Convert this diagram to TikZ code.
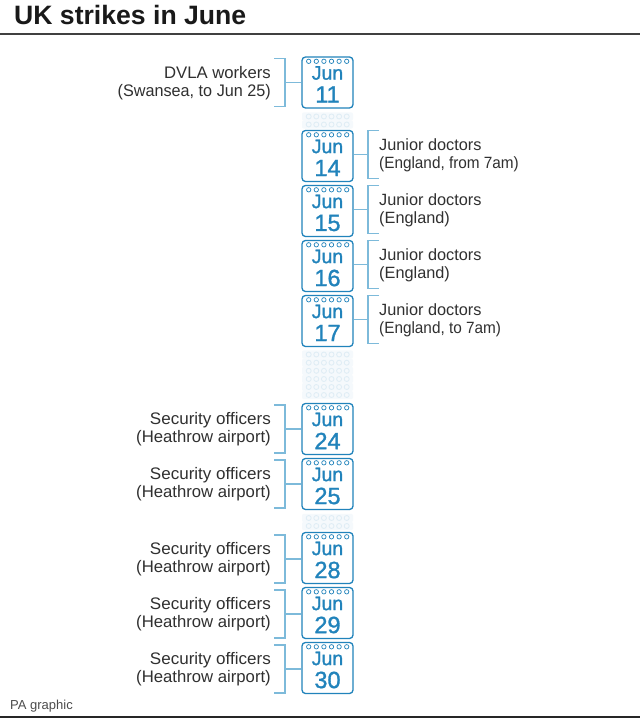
\documentclass[tikz,border=0pt]{standalone}
\usepackage{fontspec}
\setmainfont{Liberation Sans}
\newfontfamily\calfont[FakeBold=1.3]{Liberation Sans}
\definecolor{pablue}{HTML}{2183BB}
\definecolor{palink}{HTML}{7DBADA}
\definecolor{paghost}{HTML}{E0EDF5}
\definecolor{paghostbg}{HTML}{F5F9FC}
\definecolor{patext}{HTML}{303030}
\tikzset{
  x=1pt,y=-1pt,
  calbox/.style={draw=pablue,line width=1.3pt,rounded corners=3.5pt,minimum width=51pt,minimum height=51pt,inner sep=0pt,fill=white,
    text=pablue,align=center},
  calring/.style={draw=pablue,line width=.7pt,circle,minimum size=4.4pt,inner sep=0pt},
  ghostring/.style={draw=paghost,line width=.9pt,circle,minimum size=5pt,inner sep=0pt},
  linkline/.style={draw=palink,line width=1.1pt},
  lefttext/.style={anchor=east,align=right,text=patext,inner sep=0pt,font=\fontsize{16.7}{18}\selectfont},
  righttext/.style={anchor=west,align=left,text=patext,inner sep=0pt,font=\fontsize{16.3}{18}\selectfont},
  ruleline/.style={draw=black!75,line width=1.4pt},
}
\newcommand{\calpage}[2]{% y-centre, day
  \node[calbox] (cal#2) at (327.5,#1) {};
  \node[text=pablue,inner sep=0pt,font=\calfont\fontsize{19.5}{19}\selectfont] (mon#2) at (327.5,#1-9.5) {Jun};
  \node[text=pablue,inner sep=0pt,font=\calfont\fontsize{23.5}{23}\selectfont] (day#2) at (327.5,#1+12) {#2};
  \foreach \i in {0,...,5}{\node[calring] at (308.7+\i*7.6,#1-21.2) {};}
}
\newcommand{\ghostrow}[1]{%
  \fill[paghostbg,rounded corners=2pt] (302,#1-4.2) rectangle (353,#1+4.2);
  \foreach \i in {0,...,5}{\node[ghostring] at (308.7+\i*7.6,#1) {};}
}
\newcommand{\leftnote}[3]{% day, text, y
  \node[lefttext] (note#1) at (271,{#3+.5}) {#2};
  \coordinate (bt#1) at (285,{#3-24});
  \coordinate (bb#1) at (285,{#3+24});
  \coordinate (bm#1) at (285,{#3});
  \draw[linkline] (274,{#3-24}) -- (bt#1) -- (bb#1) -- (274,{#3+24});
  \draw[linkline] (bm#1) -- (bm#1 -| cal#1.west);
}
\newcommand{\rightnote}[3]{%
  \node[righttext] (note#1) at (379,{#3+.5}) {#2};
  \coordinate (bt#1) at (368,{#3-24});
  \coordinate (bb#1) at (368,{#3+24});
  \coordinate (bm#1) at (368,{#3});
  \draw[linkline] (379,{#3-24}) -- (bt#1) -- (bb#1) -- (379,{#3+24});
  \draw[linkline] (bm#1) -- (bm#1 -| cal#1.east);
}
\newcommand{\secnote}{\scalebox{1.02}[1]{Security officers}\\(Heathrow airport)}
\begin{document}
\begin{tikzpicture}
\useasboundingbox (0,0) rectangle (640,719);
\fill[white] (0,0) rectangle (640,719);
\node[anchor=base west,inner sep=0pt,text=black!90,font=\bfseries\fontsize{26.6}{30}\selectfont] (title) at (14,24.3) {UK strikes in June};
\coordinate (ruleTL) at (0,34);\coordinate (ruleTR) at (640,34);
\draw[ruleline] (ruleTL) -- (ruleTR);
\foreach \y in {116.5,124.5, 354.5,362.7,370.8,379,387,395, 518,526}{\ghostrow{\y}}
\calpage{82.5}{11}
\calpage{156}{14}
\calpage{211}{15}
\calpage{266}{16}
\calpage{321}{17}
\calpage{429}{24}
\calpage{484}{25}
\calpage{558}{28}
\calpage{613}{29}
\calpage{668}{30}
\leftnote{11}{DVLA workers\\\scalebox{.97}[1]{(Swansea, to Jun 25)}}{82.5}
\rightnote{14}{Junior doctors\\\scalebox{.94}[1]{(England, from 7am)}}{154.5}
\rightnote{15}{Junior doctors\\(England)}{209.5}
\rightnote{16}{Junior doctors\\(England)}{264.5}
\rightnote{17}{Junior doctors\\\scalebox{.94}[1]{(England, to 7am)}}{319.5}
\leftnote{24}{\secnote}{429}
\leftnote{25}{\secnote}{484}
\leftnote{28}{\secnote}{559}
\leftnote{29}{\secnote}{614}
\leftnote{30}{\secnote}{669}
\node[anchor=base west,inner sep=0pt,text=black!70,font=\fontsize{13}{14}\selectfont] (source) at (10,709) {PA graphic};
\coordinate (ruleBL) at (0,717);\coordinate (ruleBR) at (640,717);
\draw[draw=black!85,line width=1.6pt] (ruleBL) -- (ruleBR);
\end{tikzpicture}
\end{document}
